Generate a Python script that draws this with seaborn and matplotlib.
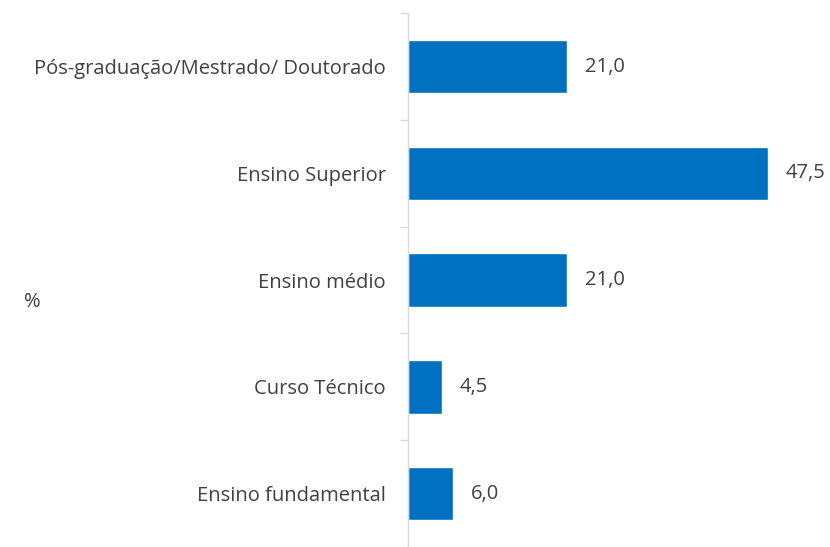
import matplotlib
matplotlib.use("Agg")
import matplotlib.pyplot as plt
import seaborn as sns
import pandas as pd

categories = ["Pós-graduação/Mestrado/ Doutorado", "Ensino Superior", "Ensino médio",
              "Curso Técnico", "Ensino fundamental"]
values = [21.0, 47.5, 21.0, 4.5, 6.0]

df = pd.DataFrame({"categoria": categories, "pct": values})

sns.set_style("white")
plt.rcParams["font.family"] = ["Open Sans", "DejaVu Sans"]

fig = plt.figure(figsize=(8.3, 5.47), dpi=100)
ax = fig.add_axes([0.4916, 0.0, 0.47, 0.976])

sns.barplot(data=df, x="pct", y="categoria", orient="h", color="#0070C0",
            saturation=1, width=0.5, ax=ax)

ax.set_xlim(0, 51.5)
ax.set_ylim(4.5, -0.5)

fs = 14.5

# value labels with comma decimal
for i, v in enumerate(values):
    ax.text(v + 2.3, i, f"{v:.1f}".replace(".", ","), va="center", ha="left",
            fontsize=fs, color="#404040")

ax.set_xticks([])
ax.set_xlabel("")
ax.set_ylabel("")
ax.tick_params(axis="y", which="major", left=True, length=0, pad=16,
               labelsize=fs, labelcolor="#404040")
ax.set_yticks([-0.5 + k for k in range(6)], minor=True)
ax.tick_params(axis="y", which="minor", left=True, length=6, color="#d9d9d9", width=1)

for s in ["top", "right", "bottom"]:
    ax.spines[s].set_visible(False)
ax.spines["left"].set_color("#d9d9d9")
ax.spines["left"].set_linewidth(1)

fig.text(24 / 830, 1 - 302 / 547, "%", fontsize=fs, color="#404040", ha="left", va="center")

fig.savefig("out.png", dpi=100)
